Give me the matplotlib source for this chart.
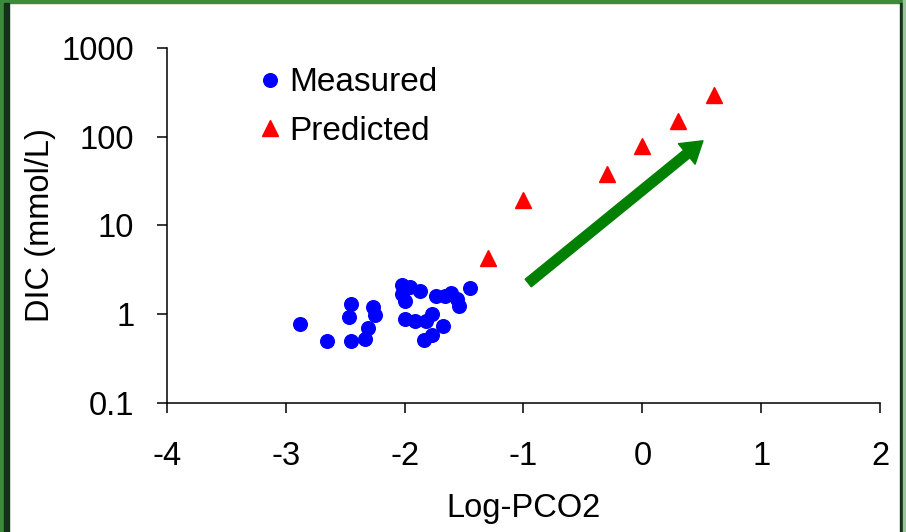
import matplotlib
matplotlib.use('Agg')
import matplotlib.pyplot as plt
from matplotlib.patches import Rectangle

plt.rcParams['font.family'] = ['Liberation Sans', 'DejaVu Sans']

# Measured points (Log-PCO2, DIC mmol/L)
measured_x = [-2.88, -2.65, -2.45, -2.47, -2.45, -2.27, -2.25, -2.31, -2.33,
              -2.02, -1.955, -2.02, -2.00, -1.87, -2.00, -1.91, -1.82, -1.77,
              -1.68, -1.77, -1.84, -1.74, -1.66, -1.61, -1.56, -1.54, -1.45]
measured_y = [0.77, 0.50, 1.31, 0.93, 0.50, 1.21, 0.97, 0.70, 0.53,
              2.12, 2.01, 1.67, 1.40, 1.82, 0.89, 0.85, 0.85, 1.00,
              0.73, 0.59, 0.51, 1.62, 1.60, 1.74, 1.50, 1.25, 1.98]

# Predicted points
predicted_x = [-1.3, -1.0, -0.3, 0.0, 0.3, 0.6]
predicted_y = [4.3, 19.6, 38, 78, 152, 299]

# trend arrow (start, end)
arrow_start = (-0.96, 2.25)
arrow_end = (0.51, 90)

xticks = [-4, -3, -2, -1, 0, 1, 2]
yticks = [0.1, 1, 10, 100, 1000]
ytick_labels = ['0.1', '1', '10', '100', '1000']

fig = plt.figure(figsize=(9.06, 5.32), dpi=100)
ax = fig.add_axes([0.1843, 0.2425, 0.787, 0.6673])

ax.plot(measured_x, measured_y, 'o', color='#0000ff', markersize=9.8,
        linestyle='none', label='Measured')
ax.plot(predicted_x, predicted_y, '^', color='#ff0000', markersize=12,
        linestyle='none', label='Predicted')

ax.annotate('', xy=arrow_end, xytext=arrow_start,
            arrowprops=dict(width=7, headwidth=19, headlength=15,
                            color='#008000', shrink=0))

ax.set_yscale('log')
ax.set_xlim(-4, 2)
ax.set_ylim(0.1, 1000)
ax.set_xticks(xticks)
ax.set_xticklabels([str(t) for t in xticks])
ax.set_yticks(yticks)
ax.set_yticklabels(ytick_labels)
ax.minorticks_off()

for s in ['top', 'right']:
    ax.spines[s].set_visible(False)
for s in ['left', 'bottom']:
    ax.spines[s].set_linewidth(1.1)
ax.tick_params(axis='both', direction='out', length=7.5, width=1.1,
               labelsize=23.5)
ax.tick_params(axis='x', pad=20)
ax.tick_params(axis='y', pad=16)

ax.set_xlabel('Log-PCO2', fontsize=23.5, labelpad=15)
ax.set_ylabel('DIC (mmol/L)', fontsize=23.5, labelpad=4)

ax.legend(loc='upper left', bbox_to_anchor=(0.098, 0.992), frameon=False,
          fontsize=24, handletextpad=0.06, labelspacing=0.52,
          handlelength=1.0, borderaxespad=0.1)

# green slide frame
fig.add_artist(Rectangle((0, 1 - 3 / 532), 1, 3 / 532, transform=fig.transFigure,
                         color='#3c8a3c', zorder=10))
fig.add_artist(Rectangle((0, 0), 4 / 906, 1, transform=fig.transFigure,
                         color='#3c8a3c', zorder=10))
fig.add_artist(Rectangle((4 / 906, 0), 5 / 906, 1 - 3 / 532, transform=fig.transFigure,
                         color='#14301a', zorder=10))
fig.add_artist(Rectangle((900 / 906, 0), 3 / 906, 1 - 3 / 532, transform=fig.transFigure,
                         color='#14301a', zorder=10))
fig.add_artist(Rectangle((903 / 906, 0), 3 / 906, 1, transform=fig.transFigure,
                         color='#9cc49c', zorder=10))

fig.savefig('out.png', dpi=100)
